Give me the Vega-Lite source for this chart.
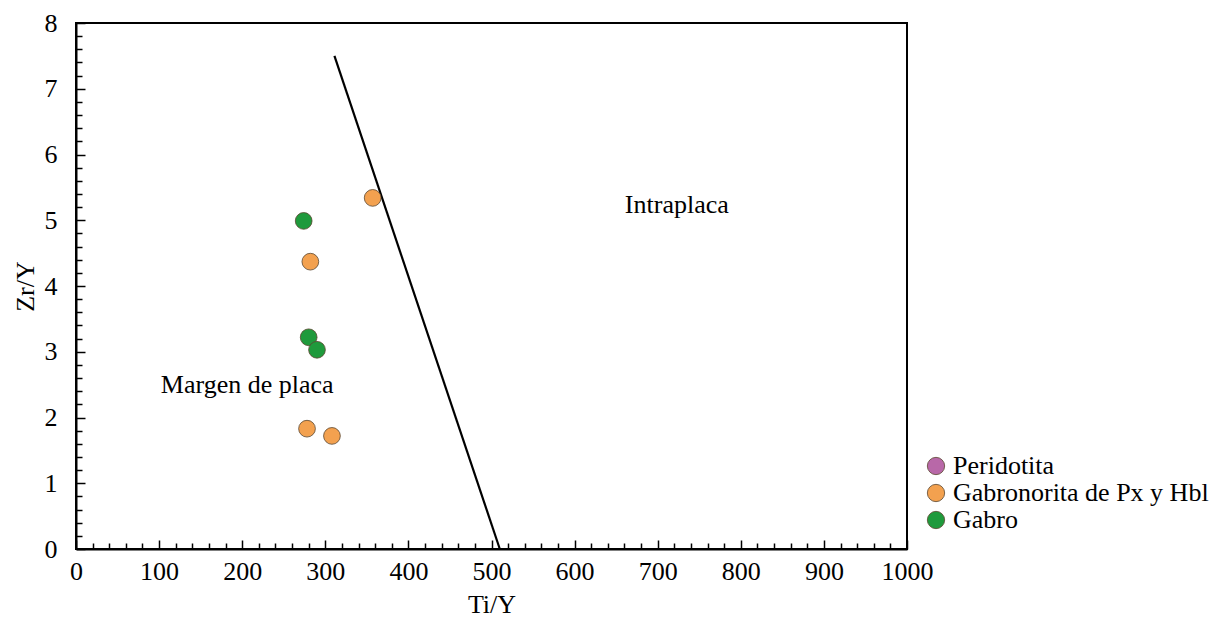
{
  "$schema": "https://vega.github.io/schema/vega-lite/v6.json",
  "width": 831,
  "height": 526,
  "autosize": "none",
  "padding": {"left": 76, "top": 23, "right": 307, "bottom": 71},
  "background": "white",
  "config": {
    "font": "Liberation Serif",
    "view": {"stroke": "black", "strokeWidth": 2},
    "axis": {
      "labelFont": "Liberation Serif",
      "titleFont": "Liberation Serif",
      "labelFontSize": 26,
      "titleFontSize": 26,
      "titleFontWeight": "normal",
      "labelColor": "black",
      "titleColor": "black",
      "domainColor": "black",
      "domainWidth": 2,
      "tickColor": "black",
      "tickWidth": 1.5,
      "grid": false,
      "labelOverlap": false
    }
  },
  "datasets": {
    "points": [
      {"TiY": 274, "ZrY": 4.99, "Litologia": "Gabro"},
      {"TiY": 280, "ZrY": 3.22, "Litologia": "Gabro"},
      {"TiY": 290, "ZrY": 3.03, "Litologia": "Gabro"},
      {"TiY": 282, "ZrY": 4.37, "Litologia": "Gabronorita de Px y Hbl"},
      {"TiY": 357, "ZrY": 5.34, "Litologia": "Gabronorita de Px y Hbl"},
      {"TiY": 278, "ZrY": 1.83, "Litologia": "Gabronorita de Px y Hbl"},
      {"TiY": 308, "ZrY": 1.72, "Litologia": "Gabronorita de Px y Hbl"}
    ],
    "boundary": [
      {"TiY": 311, "ZrY": 7.5},
      {"TiY": 510, "ZrY": 0}
    ],
    "labels": [
      {"TiY": 723, "ZrY": 5.23, "text": "Intraplaca"},
      {"TiY": 206, "ZrY": 2.49, "text": "Margen de placa"}
    ]
  },
  "encoding": {
    "x": {
      "field": "TiY", "type": "quantitative",
      "scale": {"domain": [0, 1000], "nice": false, "zero": false},
      "axis": {
        "title": "Ti/Y",
        "titlePadding": 4,
        "tickCount": 500,
        "tickMinStep": 1,
        "values": [0,20,40,60,80,100,120,140,160,180,200,220,240,260,280,300,320,340,360,380,400,420,440,460,480,500,520,540,560,580,600,620,640,660,680,700,720,740,760,780,800,820,840,860,880,900,920,940,960,980,1000],
        "format": "d",
        "labelExpr": "datum.value % 100 === 0 ? datum.label : ''",
        "tickSize": {"condition": {"test": "datum.value % 100 === 0", "value": -9}, "value": -6},
        "labelPadding": 18,
        "labelFlush": false,
        "labelOverlap": false
      }
    },
    "y": {
      "field": "ZrY", "type": "quantitative",
      "scale": {"domain": [0, 8], "nice": false, "zero": false},
      "axis": {
        "title": "Zr/Y",
        "titlePadding": 6,
        "tickCount": 500,
        "tickMinStep": 0.1,
        "values": [0,0.2,0.4,0.6,0.8,1,1.2,1.4,1.6,1.8,2,2.2,2.4,2.6,2.8,3,3.2,3.4,3.6,3.8,4,4.2,4.4,4.6,4.8,5,5.2,5.4,5.6,5.8,6,6.2,6.4,6.6,6.8,7,7.2,7.4,7.6,7.8,8],
        "labelExpr": "abs(datum.value - round(datum.value)) < 0.001 ? format(datum.value, 'd') : ''",
        "tickSize": {"condition": {"test": "abs(datum.value - round(datum.value)) < 0.001", "value": -9}, "value": -6},
        "labelPadding": 28,
        "labelFlush": false,
        "labelOverlap": false
      }
    }
  },
  "layer": [
    {
      "data": {"name": "boundary"},
      "mark": {"type": "line", "color": "black", "strokeWidth": 2.2}
    },
    {
      "data": {"name": "points"},
      "mark": {"type": "point", "filled": true, "size": 280, "opacity": 1, "stroke": "#5a4630", "strokeWidth": 0.8},
      "encoding": {
        "color": {
          "field": "Litologia", "type": "nominal",
          "scale": {
            "domain": ["Peridotita", "Gabronorita de Px y Hbl", "Gabro"],
            "range": ["#b868a8", "#f3a14f", "#1f9a3c"]
          },
          "legend": {
            "title": null,
            "orient": "none",
            "legendX": 847,
            "legendY": 430,
            "labelFont": "Liberation Serif",
            "labelFontSize": 26,
            "labelColor": "black",
            "symbolType": "circle",
            "symbolSize": 300,
            "symbolStrokeWidth": 0.8,
            "symbolStrokeColor": "#5a4630",
            "rowPadding": 1,
            "labelOffset": 4,
            "labelLimit": 400
          }
        }
      }
    },
    {
      "data": {"name": "labels"},
      "mark": {"type": "text", "font": "Liberation Serif", "fontSize": 26, "color": "black", "align": "center", "baseline": "middle"},
      "encoding": {
        "text": {"field": "text"}
      }
    }
  ]
}
